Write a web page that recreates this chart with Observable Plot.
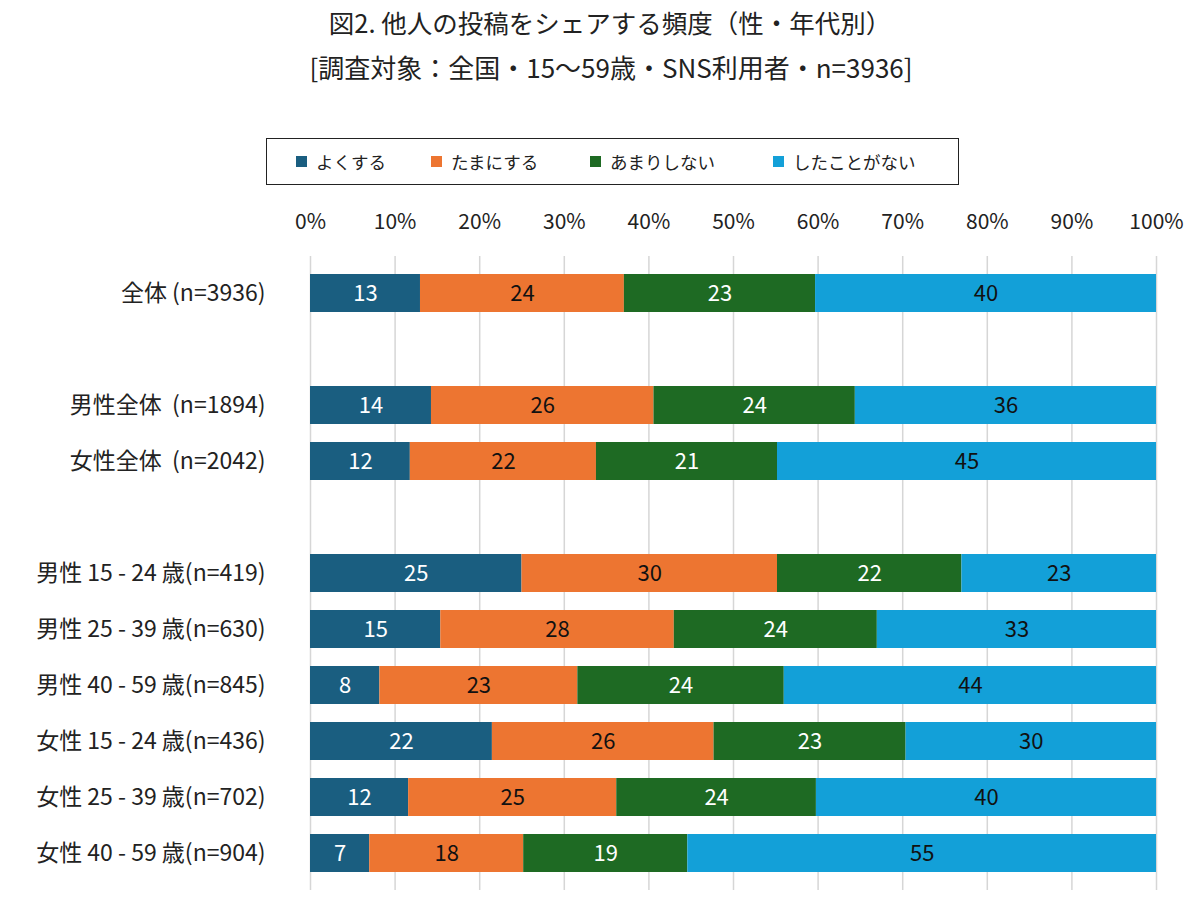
<!DOCTYPE html>
<html><head><meta charset="utf-8">
<script src="https://cdn.jsdelivr.net/npm/d3@7"></script>
<script src="https://cdn.jsdelivr.net/npm/@observablehq/plot@0.6"></script>
<style>
body{margin:0;background:#fff;font-family:"Noto Sans CJK JP","Noto Sans",sans-serif;color:#222;width:1200px;height:903px;position:relative;overflow:hidden}
#title{position:absolute;left:10px;top:4px;width:1200px;text-align:center;font-size:25.5px;line-height:36px}
#subtitle{position:absolute;left:11px;top:50px;width:1200px;text-align:center;font-size:26px;line-height:34px}
#legend{position:absolute;left:266px;top:138px;width:691px;height:45px;border:1.5px solid #222;display:flex;align-items:center;font-size:17.5px}
.item{position:absolute;display:flex;align-items:center}
.sw{width:11px;height:11px;margin-right:9px}
#chart{position:absolute;left:0;top:195px}
</style></head>
<body>
<div id="title">図2. 他人の投稿をシェアする頻度（性・年代別）</div>
<div id="subtitle">[調査対象：全国・15～59歳・SNS利用者・n=3936]</div>
<div id="legend"></div>
<div id="chart"></div>
<script>
const categories = ["全体 (n=3936)","男性全体\u00a0\u00a0(n=1894)","女性全体\u00a0\u00a0(n=2042)","男性 15 - 24 歳(n=419)","男性 25 - 39 歳(n=630)","男性 40 - 59 歳(n=845)","女性 15 - 24 歳(n=436)","女性 25 - 39 歳(n=702)","女性 40 - 59 歳(n=904)"];
const rowOrder = [categories[0],"gap1",categories[1],categories[2],"gap2",...categories.slice(3)];
const series = ["よくする","たまにする","あまりしない","したことがない"];
const often     = [13.0, 14.3, 11.8, 25.0, 15.4,  8.2, 21.5, 11.6,  7.0];
const sometimes = [24.1, 26.3, 22.0, 30.2, 27.6, 23.4, 26.2, 24.6, 18.2];
const rarely    = [22.6, 23.8, 21.4, 21.8, 24.0, 24.4, 22.7, 23.6, 19.4];
const never     = [40.3, 35.6, 44.8, 23.0, 33.0, 44.0, 29.6, 40.2, 55.4];
const xTicks = [0,10,20,30,40,50,60,70,80,90,100];
const colors = ["#1a5e80","#ed7531","#1e6a23","#13a0d8"];
const whiteText = ["よくする","あまりしない"];

const seriesValues = [often, sometimes, rarely, never];
const data = [];
categories.forEach((c, i) => {
  series.forEach((s, j) => data.push({cat: c, series: s, value: seriesValues[j][i], label: String(Math.round(seriesValues[j][i]))}));
});

// legend
const legendPos = [29, 164, 323, 506];
const lg = document.getElementById("legend");
series.forEach((s, j) => {
  const it = document.createElement("div");
  it.className = "item";
  it.style.left = legendPos[j] + "px";
  it.innerHTML = `<span class="sw" style="background:${colors[j]}"></span><span>${s}</span>`;
  lg.appendChild(it);
});

const chart = Plot.plot({
  width: 1200, height: 708,
  marginLeft: 310, marginRight: 44, marginTop: 61, marginBottom: 13,
  style: {fontFamily: '"Noto Sans CJK JP","Noto Sans",sans-serif', fontSize: "19px", color: "#222", background: "#fff"},
  x: {domain: [0, 100], axis: null},
  y: {domain: rowOrder, paddingInner: 0.325, paddingOuter: 0.283, axis: null},
  color: {domain: series, range: colors},
  marks: [
    Plot.gridX(xTicks, {stroke: "#d6d6d6", strokeOpacity: 1, strokeWidth: 1.5}),
    Plot.barX(data, Plot.stackX({x: "value", y: "cat", fill: "series"})),
    Plot.text(data, Plot.stackX({x: "value", y: "cat", text: d => whiteText.includes(d.series) ? d.label : "", fill: "white", fontSize: 22})),
    Plot.text(data, Plot.stackX({x: "value", y: "cat", text: d => whiteText.includes(d.series) ? "" : d.label, fill: "#111", fontSize: 22})),
    Plot.axisX({anchor: "top", ticks: xTicks, tickFormat: d => d + "%", tickSize: 0, tickPadding: 28, fontSize: 21, fill: "#222", label: null}),
    Plot.axisY({anchor: "left", tickSize: 0, tickPadding: 45, fontSize: 23, fill: "#222", label: null, tickFormat: d => d.startsWith("gap") ? "" : d})
  ]
});
document.getElementById("chart").appendChild(chart);
</script>
</body></html>
